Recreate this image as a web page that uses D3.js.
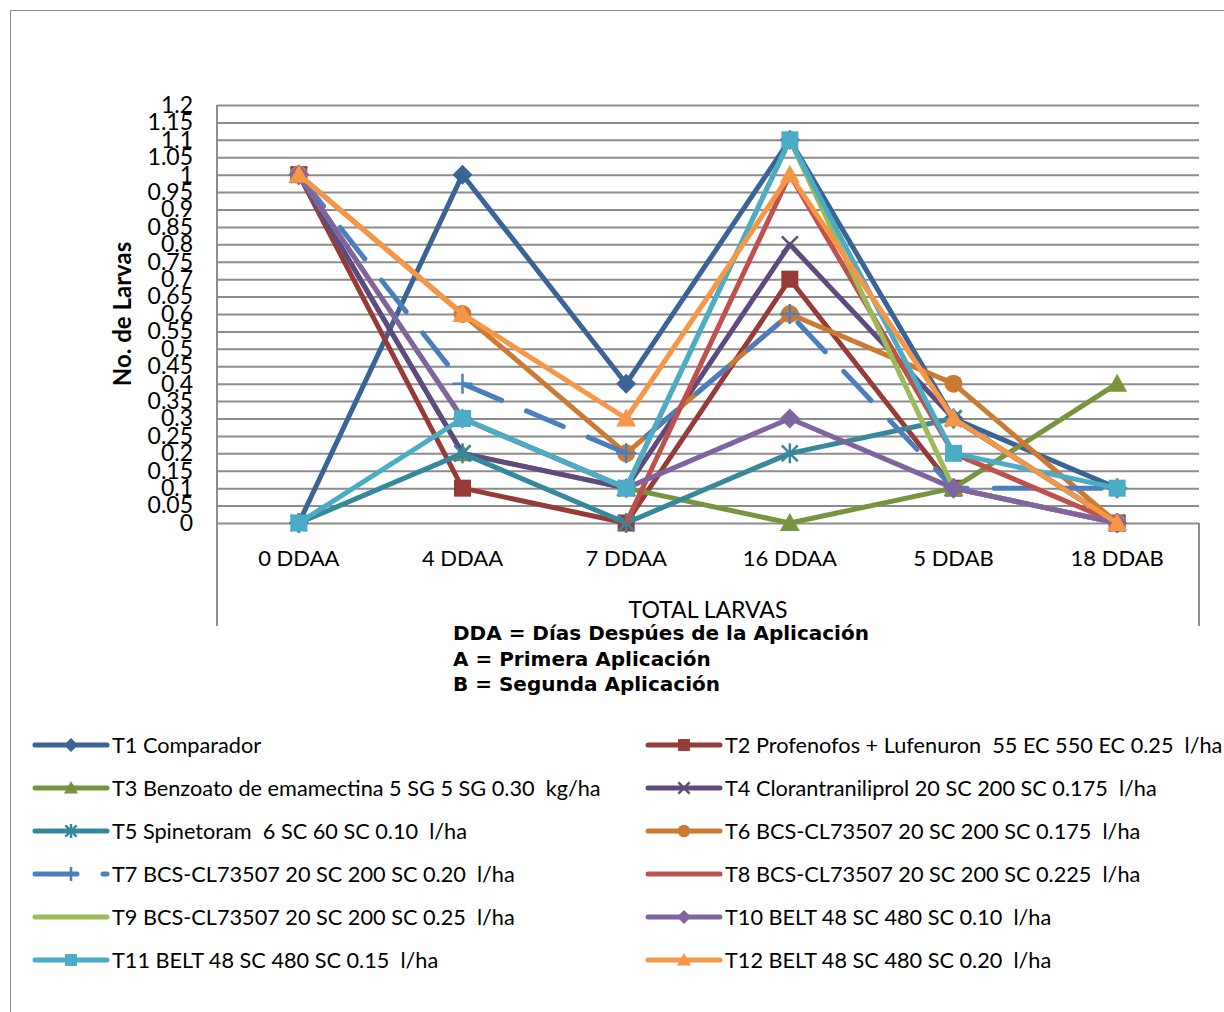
<!DOCTYPE html>
<html>
<head>
<meta charset="utf-8">
<script src="https://cdn.jsdelivr.net/npm/d3@7"></script>
<style>
  body { margin: 0; background: #fff; }
  svg text { font-family: Lato, "Open Sans", sans-serif; fill: #000; white-space: pre; }
</style>
</head>
<body>
<script>
// data
var categories = ["0 DDAA", "4 DDAA", "7 DDAA", "16 DDAA", "5 DDAB", "18 DDAB"];

var seriesNames = [
  "T1 Comparador",
  "T2 Profenofos + Lufenuron  55 EC 550 EC 0.25  l/ha",
  "T3 Benzoato de emamectina 5 SG 5 SG 0.30  kg/ha",
  "T4 Clorantraniliprol 20 SC 200 SC 0.175  l/ha",
  "T5 Spinetoram  6 SC 60 SC 0.10  l/ha",
  "T6 BCS-CL73507 20 SC 200 SC 0.175  l/ha",
  "T7 BCS-CL73507 20 SC 200 SC 0.20  l/ha",
  "T8 BCS-CL73507 20 SC 200 SC 0.225  l/ha",
  "T9 BCS-CL73507 20 SC 200 SC 0.25  l/ha",
  "T10 BELT 48 SC 480 SC 0.10  l/ha",
  "T11 BELT 48 SC 480 SC 0.15  l/ha",
  "T12 BELT 48 SC 480 SC 0.20  l/ha"
];

var t1 = [0, 1, 0.4, 1.1, 0.3, 0.1];
var t2 = [1, 0.1, 0, 0.7, 0.1, 0];
var t3 = [1, 0.2, 0.1, 0, 0.1, 0.4];
var t4 = [1, 0.2, 0.1, 0.8, 0.3, 0];
var t5 = [0, 0.2, 0, 0.2, 0.3, 0];
var t6 = [1, 0.6, 0.2, 0.6, 0.4, 0];
var t7 = [1, 0.4, 0.2, 0.6, 0.1, 0.1];
var t8 = [1, null, 0, 1, 0.2, 0];
var t9 = [1, 0.3, 0.1, 1.1, 0.1, 0];
var t10 = [1, 0.3, 0.1, 0.3, 0.1, 0];
var t11 = [0, 0.3, 0.1, 1.1, 0.2, 0.1];
var t12 = [1, 0.6, 0.3, 1, 0.3, 0];
var seriesValues = [t1, t2, t3, t4, t5, t6, t7, t8, t9, t10, t11, t12];

var yTicks = [0, 0.05, 0.1, 0.15, 0.2, 0.25, 0.3, 0.35, 0.4, 0.45, 0.5, 0.55, 0.6,
              0.65, 0.7, 0.75, 0.8, 0.85, 0.9, 0.95, 1, 1.05, 1.1, 1.15, 1.2];
var yTickLabels = ["0", "0.05", "0.1", "0.15", "0.2", "0.25", "0.3", "0.35", "0.4", "0.45", "0.5", "0.55", "0.6",
                   "0.65", "0.7", "0.75", "0.8", "0.85", "0.9", "0.95", "1", "1.05", "1.1", "1.15", "1.2"];

var xTitle = "TOTAL LARVAS";
var yTitle = "No. de Larvas";
var notes = ["DDA = Días Despúes de la Aplicación", "A = Primera Aplicación", "B = Segunda Aplicación"];

// styles
var colors = ["#3b6496", "#963b38", "#78943f", "#5f4a80", "#36889c", "#cc7a33",
              "#4a7ebf", "#c0504d", "#9bbb59", "#8064a2", "#4bacc6", "#f79646"];
var markers = ["diamond", "square", "triangle", "x", "star", "circle",
               "plus", "none", "none", "diamond", "square", "triangle"];
var dashes = [null, null, null, null, null, null, "40,27", null, null, null, null, null];

var W = 1224, H = 1012;
var plot = {left: 217, right: 1199, top: 105, bottom: 523, frameBottom: 626};

var svg = d3.select("body").append("svg")
    .attr("width", W)
    .attr("height", H);

// outer chart border
svg.append("rect")
    .attr("x", 10.5).attr("y", 10.5)
    .attr("width", W + 20).attr("height", H + 20)
    .attr("fill", "none")
    .attr("stroke", "#8a8a8a")
    .attr("stroke-width", 1);

var x = d3.scaleBand()
    .domain(categories)
    .range([plot.left, plot.right])
    .padding(0);

var y = d3.scaleLinear()
    .domain([0, 1.2])
    .range([plot.bottom, plot.top]);

// gridlines
svg.append("g")
    .attr("transform", "translate(" + plot.left + ",0)")
    .call(d3.axisLeft(y).tickValues(yTicks).tickSize(-(plot.right - plot.left)).tickFormat(""))
    .call(function(g) {
      g.select(".domain").remove();
      g.selectAll("line").attr("stroke", "#8c8c8c").attr("stroke-width", 2);
    });

// plot frame: left axis and right side below the x axis
svg.append("line")
    .attr("x1", plot.left).attr("x2", plot.left)
    .attr("y1", plot.top).attr("y2", plot.frameBottom)
    .attr("stroke", "#8c8c8c").attr("stroke-width", 2);
svg.append("line")
    .attr("x1", plot.right).attr("x2", plot.right)
    .attr("y1", plot.bottom).attr("y2", plot.frameBottom)
    .attr("stroke", "#8c8c8c").attr("stroke-width", 2);

// y axis labels
svg.append("g")
    .attr("transform", "translate(" + plot.left + ",0)")
    .call(d3.axisLeft(y).tickValues(yTicks).tickSize(0).tickPadding(24)
      .tickFormat(function(d, i) { return yTickLabels[i]; }))
    .call(function(g) {
      g.select(".domain").remove();
      g.selectAll("text")
        .attr("font-family", "Lato, sans-serif")
        .attr("font-size", 23)
        .attr("fill", "#000");
    });

// x axis labels
svg.append("g")
    .attr("transform", "translate(0," + plot.bottom + ")")
    .call(d3.axisBottom(x).tickSize(0).tickPadding(27))
    .call(function(g) {
      g.select(".domain").remove();
      g.selectAll("text")
        .attr("font-family", "Lato, sans-serif")
        .attr("font-size", 22)
        .attr("fill", "#000");
    });

// axis titles
svg.append("text")
    .attr("transform", "translate(131," + ((plot.top + plot.bottom) / 2) + ") rotate(-90)")
    .attr("text-anchor", "middle")
    .attr("font-size", 24)
    .attr("font-weight", "bold")
    .text(yTitle);

svg.append("text")
    .attr("x", (plot.left + plot.right) / 2)
    .attr("y", 618)
    .attr("text-anchor", "middle")
    .attr("font-size", 23)
    .text(xTitle);

svg.selectAll(".note")
    .data(notes)
    .enter().append("text")
      .attr("class", "note")
      .attr("x", 453)
      .attr("y", function(d, i) { return 640 + i * 25.5; })
      .attr("font-size", 20)
      .attr("font-weight", "bold")
      .style("font-family", "'DejaVu Sans', sans-serif")
      .text(function(d) { return d; });

// marker drawing
function drawMarker(g, type, color, s) {
  var h = s / 2;
  if (type == "diamond") {
    g.append("path").attr("d", "M0," + (-h) + "L" + h + ",0L0," + h + "L" + (-h) + ",0Z").attr("fill", color);
  } else if (type == "square") {
    g.append("rect").attr("x", -h * 0.85).attr("y", -h * 0.85)
      .attr("width", s * 0.85).attr("height", s * 0.85).attr("fill", color);
  } else if (type == "triangle") {
    g.append("path").attr("d", "M0," + (-h) + "L" + h + "," + (h * 0.8) + "L" + (-h) + "," + (h * 0.8) + "Z").attr("fill", color);
  } else if (type == "circle") {
    g.append("circle").attr("r", h * 0.9).attr("fill", color);
  } else if (type == "x" || type == "star") {
    var k = h * 0.8;
    g.append("path").attr("d", "M" + (-k) + "," + (-k) + "L" + k + "," + k + "M" + (-k) + "," + k + "L" + k + "," + (-k))
      .attr("stroke", color).attr("stroke-width", 2.5).attr("fill", "none");
    if (type == "star") {
      g.append("path").attr("d", "M0," + (-h) + "L0," + h)
        .attr("stroke", color).attr("stroke-width", 2.5);
    }
  } else if (type == "plus") {
    g.append("path").attr("d", "M0," + (-h) + "L0," + h + "M" + (-h) + ",0L" + h + ",0")
      .attr("stroke", color).attr("stroke-width", 2.5).attr("fill", "none");
  }
}

var line = d3.line()
    .defined(function(d) { return d != null; })
    .x(function(d, i) { return x(categories[i]) + x.bandwidth() / 2; })
    .y(function(d) { return y(d); });

// series, drawn in order so the later ones sit on top
seriesValues.forEach(function(values, si) {
  var g = svg.append("g").attr("class", "series");
  g.append("path")
      .attr("d", line(values))
      .attr("fill", "none")
      .attr("stroke", colors[si])
      .attr("stroke-width", 5)
      .attr("stroke-linejoin", "round")
      .attr("stroke-linecap", dashes[si] ? "round" : "butt")
      .attr("stroke-dasharray", dashes[si]);
  values.forEach(function(v, i) {
    if (v == null || markers[si] == "none") return;
    var m = g.append("g")
        .attr("transform", "translate(" + (x(categories[i]) + x.bandwidth() / 2) + "," + y(v) + ")");
    drawMarker(m, markers[si], colors[si], 20);
  });
});

// legend, two columns
var legend = svg.append("g").attr("class", "legend");
seriesNames.forEach(function(name, si) {
  var col = si % 2, row = Math.floor(si / 2);
  var x0 = col == 0 ? 35 : 648;
  var yy = 745 + row * 43;
  var item = legend.append("g").attr("transform", "translate(" + x0 + "," + yy + ")");
  item.append("line")
      .attr("x1", 0).attr("x2", 72)
      .attr("stroke", colors[si])
      .attr("stroke-width", 5)
      .attr("stroke-linecap", "round")
      .attr("stroke-dasharray", dashes[si] ? "42,26" : null);
  var m = item.append("g").attr("transform", "translate(36,0)");
  drawMarker(m, markers[si], colors[si], 14);
  item.append("text")
      .attr("x", 77)
      .attr("dy", "0.36em")
      .attr("font-size", 21.7)
      .text(name);
});
</script>
</body>
</html>
